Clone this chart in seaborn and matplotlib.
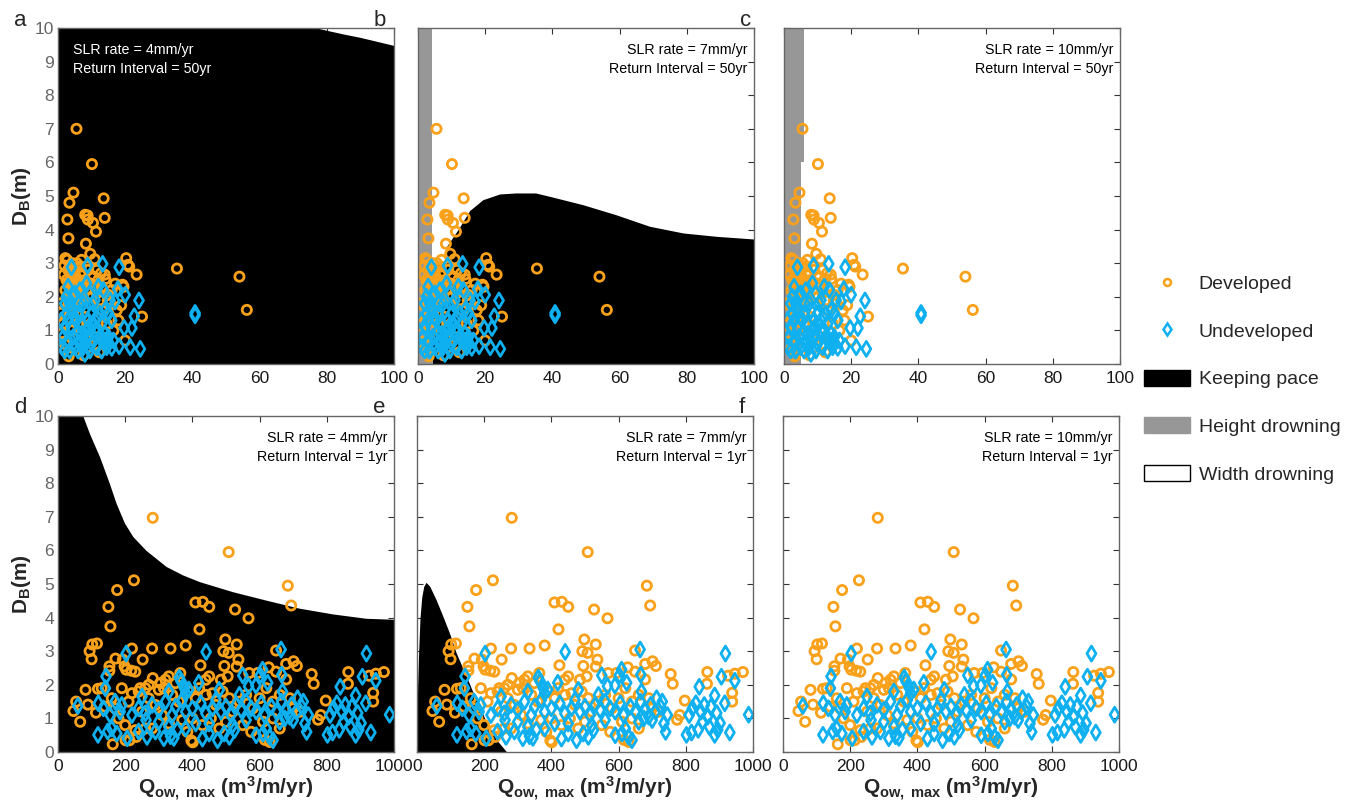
import matplotlib
matplotlib.use("Agg")
import matplotlib.pyplot as plt
from matplotlib.lines import Line2D
from matplotlib.patches import Patch
import seaborn as sns

# Colours
ORANGE = "#f9a11b"
BLUE = "#0fb0f0"
GRAY = "#979797"

# ---- top row points (return interval 50 yr), x = Qow,max (m3/m/yr), y = DB (m)
dev50_x = [5.5, 10.1, 4.6, 3.4, 13.6, 2.8, 8.1, 8.8, 8.9, 10.4, 13.9, 11.3, 3.1, 8.3, 9.6,
           2.2, 2.7, 10.9, 20.3, 20.8, 21.2, 7.0, 5.6, 4.2, 1.9, 35.4, 23.4, 54.0, 56.2, 25.0,
           20.0, 3.2, 7.6, 12.3, 13.9, 14.1, 19.2, 15.0, 17.0, 18.8, 1.7, 1.0, 0.9, 1.2,
           2.5, 3.0, 3.5, 4.0, 4.5, 5.0, 5.5, 6.0, 6.5, 7.0, 7.5, 8.0, 8.5, 9.0, 9.5, 10.0,
           10.5, 11.0, 11.5, 12.0, 12.5, 13.0, 3.0, 4.0, 5.0, 6.0, 2.2, 3.8, 6.8, 8.7, 2.8,
           4.8, 9.5, 11.5, 16.0, 15.5, 17.5, 18.0, 16.5, 14.5, 1.5, 2.0, 5.0, 9.0, 11.0, 6.0,
           8.0, 4.0, 13.0, 19.5, 3.3, 4.3, 5.3, 6.3, 7.3, 2.6, 3.6, 4.6, 5.8, 6.8, 12.8, 14.8]
dev50_y = [7.0, 5.95, 5.1, 4.8, 4.93, 4.3, 4.44, 4.42, 4.3, 4.2, 4.35, 3.94, 3.74, 3.58, 3.28,
           3.15, 3.1, 3.12, 3.15, 2.95, 2.9, 3.1, 3.0, 3.0, 2.93, 2.84, 2.66, 2.6, 1.61, 1.41,
           0.70, 0.23, 0.26, 0.35, 2.66, 2.53, 2.36, 2.06, 2.39, 1.75, 2.66, 1.81, 1.52, 0.92,
           2.5, 2.8, 2.2, 2.6, 2.4, 2.8, 2.1, 2.5, 2.3, 2.7, 2.0, 2.5, 2.2, 2.8, 2.4, 2.0,
           2.6, 2.3, 2.1, 2.5, 1.9, 2.3, 1.9, 2.0, 1.8, 1.9, 2.2, 2.9, 2.9, 2.9, 1.7,
           1.6, 1.8, 2.8, 2.2, 1.8, 1.6, 1.3, 1.0, 1.2, 1.2, 0.6, 0.5, 0.5, 0.8, 1.2,
           1.4, 1.0, 1.6, 2.3, 2.45, 2.25, 2.6, 2.15, 2.35, 2.0, 2.7, 1.95, 2.4, 2.05, 2.7, 1.9]

und50_x = [4.0, 8.8, 13.3, 18.2, 24.1, 20.0, 17.8, 17.0, 22.7, 22.0, 19.7, 21.5, 24.5, 18.2,
           40.8, 40.8, 16.0, 14.6, 2.5, 1.0,
           2, 3, 4, 5, 6, 7, 8, 9, 10, 11, 12, 13, 14, 15, 16, 2.5, 3.5, 4.5, 5.5, 6.5, 7.5,
           8.5, 9.5, 10.5, 11.5, 12.5, 13.5, 14.5, 15.5, 1.5, 2.0, 3.0, 4.0, 5.0, 6.0, 7.0,
           8.0, 9.0, 10.0, 11.0, 12.0, 13.0, 14.0, 16.5, 3.5, 4.5, 6.5, 7.5, 9.5, 10.5, 12.5,
           11.5, 8.5, 5.5, 2.0, 3.0, 1.2, 15.0, 13.8, 6.2, 9.2, 4.8, 7.8]
und50_y = [2.88, 2.93, 2.98, 2.88, 1.89, 2.06, 2.23, 1.86, 1.42, 1.07, 1.07, 0.50, 0.45, 0.53,
           1.45, 1.52, 0.48, 0.67, 2.0, 1.3,
           0.4, 0.7, 1.1, 0.5, 1.5, 0.9, 0.3, 1.3, 0.6, 1.9, 1.0, 0.4, 1.6, 0.8, 1.3, 1.5, 1.8,
           0.8, 1.3, 0.6, 1.8, 1.0, 2.1, 1.2, 0.5, 1.5, 2.2, 0.5, 1.9, 0.8, 1.1, 1.3, 1.6, 2.1,
           0.4, 1.2, 1.6, 0.8, 1.5, 1.0, 2.3, 1.2, 0.9, 0.7, 0.4, 2.0, 2.2, 0.5, 0.4, 1.8, 0.8,
           1.4, 2.4, 0.9, 1.8, 2.3, 0.5, 1.5, 0.7, 1.8, 1.1, 1.4, 0.7]

# ---- bottom row points (return interval 1 yr)
dev1_x = [282, 508, 684, 694, 226, 176, 150, 156, 409, 431, 450, 527, 567, 421, 94, 102, 116,
          100, 220, 280, 335, 380, 498, 492, 508, 532, 537, 532, 424, 495, 649, 679, 701, 711,
          755, 761, 864, 863, 970, 926, 946, 938, 938, 797, 774, 782, 171, 153, 153, 193, 198,
          203, 218, 230, 252, 82, 54, 46, 66, 89, 113, 119, 163, 201, 213, 233, 397, 401, 616,
          282, 305, 315, 320, 330, 349, 364, 450, 440, 485, 505, 569, 594, 627, 649, 679,
          130, 160, 190, 210, 240, 260, 270, 290, 300, 340, 360, 390, 410, 420, 440, 460, 470,
          490, 510, 520, 540, 560, 580, 600, 620, 640, 660, 690, 700, 720, 180, 200, 250, 280,
          310, 330, 370, 385, 400, 430, 455, 480, 500, 550, 575, 610, 640, 660, 630, 230, 260,
          170, 220, 245, 270, 140]
dev1_y = [6.97, 5.95, 4.95, 4.36, 5.11, 4.82, 4.32, 3.74, 4.45, 4.47, 4.32, 4.24, 3.98, 3.65,
          3.0, 3.2, 3.23, 2.76, 3.08, 3.08, 3.08, 3.17, 3.35, 3.0, 2.95, 3.2, 2.75, 2.54, 2.58,
          2.56, 3.02, 2.62, 2.7, 2.56, 2.32, 2.03, 2.38, 2.03, 2.38, 2.27, 2.33, 1.76, 1.5, 1.53,
          0.96, 1.1, 2.78, 2.55, 2.42, 2.75, 2.55, 2.45, 2.42, 2.39, 2.75, 1.85, 1.5, 1.22, 0.9,
          1.41, 1.17, 1.88, 0.23, 0.35, 0.35, 0.45, 0.34, 0.29, 0.36,
          2.2, 2.05, 1.9, 2.15, 2.25, 2.05, 2.35, 2.25, 2.15, 2.15, 2.25, 2.35, 2.35, 2.52, 2.39,
          2.16, 1.9, 1.6, 1.9, 1.5, 1.8, 1.9, 1.6, 1.4, 1.85, 1.7, 1.5, 1.8, 1.6, 1.9, 1.7, 1.75,
          1.4, 1.8, 1.6, 1.2, 1.5, 1.7, 1.3, 1.6, 1.9, 1.5, 1.7, 1.6, 1.3, 1.2, 1.0, 0.8, 1.2,
          0.7, 1.1, 0.85, 0.95, 0.6, 1.0, 0.8, 1.0, 0.7, 0.9, 0.8, 0.6, 0.9, 1.0, 0.7, 0.3, 0.65,
          0.7, 1.3, 1.75, 1.9, 2.0, 1.35]

und1_x = [203, 441, 664, 918, 906, 946, 916, 931, 987, 886, 892, 902, 895, 886, 840, 837, 817,
          802, 550, 567, 589, 602, 624, 609, 666, 668, 713, 419, 361, 366, 389, 376, 143, 141,
          120, 59, 119, 148, 206, 240, 262, 265, 290, 315, 335, 355, 345, 430, 450, 475, 495,
          510, 525, 520, 590, 610, 620, 630, 640, 660, 675, 690, 700,
          135, 155, 170, 185, 160, 175, 190, 220, 240, 260, 280, 300, 320, 340, 350, 370, 380,
          400, 410, 425, 440, 460, 470, 485, 500, 515, 530, 545, 560, 575, 590, 605, 615, 635,
          650, 665, 680, 695, 710, 725, 735, 740, 745, 730, 810, 820, 830, 845, 855, 865, 875,
          850, 870, 300, 330, 380, 450, 560, 380, 330, 480, 540, 250]
und1_y = [2.93, 2.98, 3.05, 2.93, 2.24, 2.12, 1.45, 0.58, 1.11, 1.68, 1.16, 0.86, 0.66, 0.51,
          1.94, 0.66, 0.58, 0.51, 2.28, 1.96, 1.98, 2.28, 2.06, 2.45, 2.3, 1.8, 1.6, 2.06, 2.21,
          2.11, 1.86, 1.9, 2.25, 1.9, 1.45, 1.37, 0.51, 0.61, 0.41, 0.61, 0.95, 0.45, 0.61, 0.41,
          0.47, 0.66, 0.42, 0.4, 0.55, 0.35, 0.55, 0.45, 0.65, 0.8, 0.5, 0.55, 0.7, 0.45, 0.35,
          0.9, 1.0, 1.05, 0.95,
          1.3, 1.1, 1.5, 1.2, 0.7, 0.55, 1.4, 1.1, 1.3, 1.15, 1.4, 1.25, 1.5, 1.1, 1.35, 1.55,
          1.2, 1.3, 0.85, 1.45, 1.15, 1.3, 1.55, 1.2, 1.35, 1.1, 1.4, 1.25, 1.5, 1.3, 1.2, 1.45,
          1.1, 1.35, 1.2, 1.5, 1.25, 1.4, 1.2, 1.35, 0.85, 0.6, 1.1, 1.5, 1.1, 1.3, 1.45, 1.2,
          1.4, 1.05, 1.35, 0.9, 0.75, 0.9, 0.75, 0.7, 0.85, 0.95, 1.75, 1.8, 1.85, 1.7, 1.65]

# ---- regime boundaries (keeping pace = black below curve, height drowning = gray strip)
kp_a_x = [0, 77, 80, 85, 90, 95, 100]
kp_a_y = [10, 10, 9.93, 9.82, 9.72, 9.6, 9.48]
kp_b_x = [4.2, 8.5, 8.5, 11.9, 15.4, 19.3, 24.3, 29, 35, 39.2, 49.1, 59, 68.9, 78.9, 88.8, 100]
kp_b_y = [3.0, 3.0, 3.5, 4.0, 4.57, 4.89, 5.06, 5.09, 5.09, 4.99, 4.74, 4.44, 4.1, 3.9, 3.8, 3.72]
hd_b_y = [0, 10]
hd_b_x = [4.2, 4.2]
hd_c_y = [0, 6, 6, 10]
hd_c_x = [5.06, 5.06, 6.0, 6.0]
kp_d_x = [0, 74, 94, 124, 153, 173, 198, 223, 262, 322, 371, 421, 520, 619, 718, 817, 916, 1000]
kp_d_y = [10, 10, 9.47, 8.78, 7.99, 7.4, 6.81, 6.41, 6.0, 5.52, 5.27, 5.07, 4.77, 4.52, 4.28,
          4.11, 3.98, 3.95]
kp_e_x = [0, 2, 5, 9, 14, 20, 27, 38, 57, 77, 97, 117, 147, 176, 206, 236, 267]
kp_e_y = [1.0, 2.0, 3.0, 4.0, 4.6, 4.93, 5.05, 4.93, 4.53, 4.04, 3.53, 2.94, 2.25, 1.55, 0.91,
          0.37, 0]

labels = ["a", "b", "c", "d", "e", "f"]
slr = ["4", "7", "10", "4", "7", "10"]
interval = ["50yr", "50yr", "50yr", "1yr", "1yr", "1yr"]

panels = [
    dict(kp=(kp_a_x, kp_a_y), hd=None),
    dict(kp=(kp_b_x, kp_b_y), hd=(hd_b_y, hd_b_x)),
    dict(kp=None, hd=(hd_c_y, hd_c_x)),
    dict(kp=(kp_d_x, kp_d_y), hd=None),
    dict(kp=(kp_e_x, kp_e_y), hd=None),
    dict(kp=None, hd=None),
]

sns.set_style("ticks")
plt.rcParams["font.family"] = ["Liberation Sans", "DejaVu Sans"]
plt.rcParams["mathtext.fontset"] = "custom"
plt.rcParams["mathtext.rm"] = "Liberation Sans"
plt.rcParams["mathtext.it"] = "Liberation Sans:italic"
plt.rcParams["mathtext.bf"] = "Liberation Sans:bold"

fig = plt.figure(figsize=(13.51, 8.07), dpi=100)

W, H = 1351, 807
lefts = [58, 418, 784, 58, 417, 783]
tops = [28, 28, 28, 416, 416, 416]
size = 336

for i, p in enumerate(panels):
    ax = fig.add_axes([lefts[i] / W, 1 - (tops[i] + size) / H, size / W, size / H])
    top = i < 3
    xmax = 100 if top else 1000
    ax.set_xlim(0, xmax)
    ax.set_ylim(0, 10)
    ax.set_facecolor("white")

    if p["kp"] is not None:
        ax.fill_between(p["kp"][0], 0, p["kp"][1], color="black", lw=0, zorder=1)
    if p["hd"] is not None:
        ax.fill_betweenx(p["hd"][0], 0, p["hd"][1], color=GRAY, lw=0, zorder=1)

    dx, dy = (dev50_x, dev50_y) if top else (dev1_x, dev1_y)
    ux, uy = (und50_x, und50_y) if top else (und1_x, und1_y)
    sns.scatterplot(x=dx, y=dy, marker="o", s=44, facecolor="none", edgecolor=ORANGE,
                    linewidth=2.0, ax=ax, zorder=3)
    sns.scatterplot(x=ux, y=uy, marker="d", s=58, facecolor="none", edgecolor=BLUE,
                    linewidth=2.0, ax=ax, zorder=4)

    ax.set_xticks(range(0, xmax + 1, xmax // 5))
    ax.set_yticks(range(0, 11))
    ax.tick_params(direction="in", length=4, width=0.8, top=True, right=True,
                   color="#333333", labelsize=12.5)
    ax.tick_params(axis="x", labelcolor="#1a1a1a", pad=5)
    ax.tick_params(axis="y", labelcolor="#666666", pad=3)
    if i % 3 != 0:
        ax.set_yticklabels([])
    else:
        ax.set_ylabel(r"$\mathbf{D_B(m)}$", fontsize=15, labelpad=1)
    if not top:
        ax.set_xlabel(r"$\mathbf{Q_{ow,\ max}\ (m^3/m/yr)}$", fontsize=15, labelpad=1)
    for s in ax.spines.values():
        s.set_color("#666666")
        s.set_linewidth(1.0)
        s.set_zorder(5)

    txt = f"SLR rate = {slr[i]}mm/yr\nReturn Interval = {interval[i]}"
    if i == 0:
        ax.text(0.045, 0.955, txt, transform=ax.transAxes, color="white", fontsize=10.3,
                ha="left", va="top", linespacing=1.4, zorder=6)
    else:
        ax.text(0.98, 0.955, txt, transform=ax.transAxes, color="black", fontsize=10.3,
                ha="right", va="top", linespacing=1.4, zorder=6)

    fig.text((lefts[i] - 44) / W, 1 - (tops[i] - 8) / H, labels[i], fontsize=16,
             ha="left", va="center")

handles = [
    Line2D([], [], marker="o", ls="none", mfc="none", mec=ORANGE, mew=1.8, ms=5),
    Line2D([], [], marker="d", ls="none", mfc="none", mec=BLUE, mew=1.8, ms=6),
    Patch(facecolor="black", edgecolor="black"),
    Patch(facecolor=GRAY, edgecolor=GRAY),
    Patch(facecolor="white", edgecolor="black", linewidth=1),
]
names = ["Developed", "Undeveloped", "Keeping pace", "Height drowning", "Width drowning"]
fig.legend(handles, names, loc="upper left", bbox_to_anchor=(1126 / W, 1 - 257 / H),
           frameon=False, fontsize=14, handlelength=2.37, handleheight=0.88,
           handletextpad=0.46, labelspacing=1.49)

fig.savefig("out.png", dpi=100)
